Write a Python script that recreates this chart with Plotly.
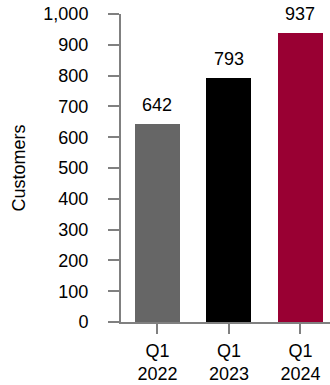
import plotly.graph_objects as go

categories = ["Q1<br>2022", "Q1<br>2023", "Q1<br>2024"]
customers = [642, 793, 937]
bar_colors = ["#666666", "#000000", "#990033"]
y_tick_vals = [0, 100, 200, 300, 400, 500, 600, 700, 800, 900, 1000]

FONT = "Liberation Sans, Arial, Helvetica, sans-serif"
AXIS_COLOR = "#808080"
FS = 18

fig = go.Figure()
fig.add_trace(go.Bar(
    x=list(range(len(categories))),
    y=customers,
    marker=dict(color=bar_colors, line=dict(width=0)),
    width=0.63,
    hoverinfo="skip",
))

for i, v in enumerate(customers):
    fig.add_annotation(
        x=i, y=v, xref="x", yref="y",
        text=f"{v:,}", showarrow=False,
        yanchor="bottom", yshift=7,
        font=dict(family=FONT, size=FS, color="#000000"),
    )

fig.update_layout(
    width=330, height=385,
    margin=dict(l=121, r=0, t=14, b=63, autoexpand=False),
    paper_bgcolor="white", plot_bgcolor="white",
    showlegend=False,
    font=dict(family=FONT, size=FS, color="#000000"),
    bargap=0,
)
fig.update_xaxes(
    range=[-0.51, 2.413],
    tickmode="array",
    tickvals=list(range(len(categories))),
    ticktext=categories,
    showline=True, linecolor=AXIS_COLOR, linewidth=2,
    ticks="outside", ticklen=10, tickwidth=2, tickcolor=AXIS_COLOR,
    ticklabelstandoff=1,
    showgrid=False, zeroline=False,
    tickfont=dict(family=FONT, size=FS, color="#000000"),
    automargin=False,
    fixedrange=True,
)
fig.update_yaxes(
    range=[0, 1000],
    tickmode="array",
    tickvals=y_tick_vals,
    ticktext=[f"{v:,}" for v in y_tick_vals],
    showline=True, linecolor=AXIS_COLOR, linewidth=2,
    ticks="outside", ticklen=11, tickwidth=2, tickcolor=AXIS_COLOR,
    ticklabelstandoff=16,
    showgrid=False, zeroline=False,
    tickfont=dict(family=FONT, size=FS, color="#000000"),
    title=dict(text="Customers", font=dict(family=FONT, size=FS, color="#000000"), standoff=13),
    automargin=False,
    fixedrange=True,
)

fig.write_html("out.html", config={"displayModeBar": False})
